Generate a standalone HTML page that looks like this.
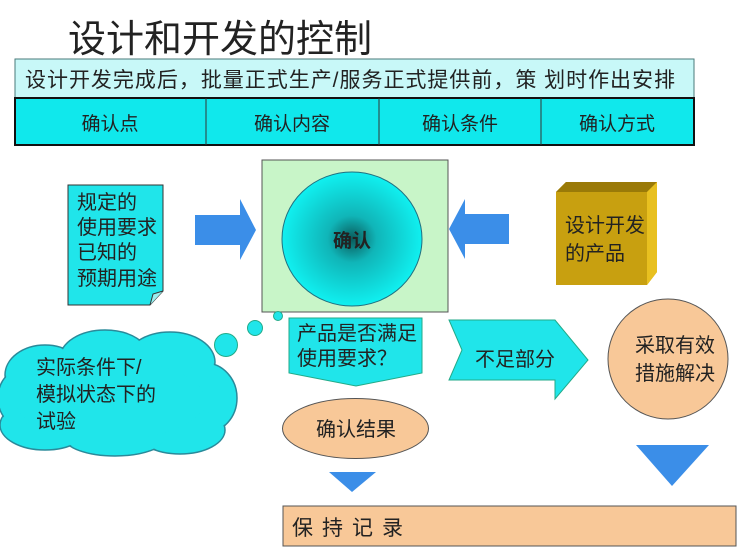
<!DOCTYPE html>
<html><head><meta charset="utf-8"><style>
body{margin:0;background:#fff;}
svg{display:block}
text{font-family:"Liberation Sans","Noto Sans CJK SC",sans-serif;fill:#222;}
</style></head><body>
<svg width="749" height="556" viewBox="0 0 749 556" xmlns="http://www.w3.org/2000/svg">
<defs>
<radialGradient id="g1" cx="0.5" cy="0.5" r="0.5">
<stop offset="0" stop-color="#0a5a5a"/><stop offset="0.35" stop-color="#10b5b8"/><stop offset="1" stop-color="#10f0f0"/>
</radialGradient>
</defs>
<text x="68" y="52" font-size="38" fill="#111">设计和开发的控制</text>
<rect x="15" y="59" width="679" height="39" fill="#c8f8f8" stroke="#4a7a7a" stroke-width="1"/>
<text x="25" y="87" font-size="21" textLength="650">设计开发完成后，批量正式生产/服务正式提供前，策 划时作出安排</text>
<rect x="15" y="98" width="679" height="47" fill="#10e8ec" stroke="#111" stroke-width="2"/>
<line x1="206" y1="98" x2="206" y2="145" stroke="#333"/>
<line x1="379" y1="98" x2="379" y2="145" stroke="#333"/>
<line x1="541" y1="98" x2="541" y2="145" stroke="#333"/>
<g font-size="19" text-anchor="middle"><text x="110" y="130">确认点</text><text x="292" y="130">确认内容</text><text x="460" y="130">确认条件</text><text x="617" y="130">确认方式</text></g>

<rect x="262" y="160" width="186" height="152" fill="#c8f5c8" stroke="#555"/>
<ellipse cx="352" cy="239" rx="70" ry="67" fill="url(#g1)" stroke="#207080"/>
<text x="352" y="247" font-size="19" font-weight="bold" text-anchor="middle" fill="#111">确认</text>

<path d="M68 185 H163 V291 L150 305 H68 Z" fill="#20e5ea" stroke="#333"/>
<path d="M150 305 L153 294 L163 291" fill="#9ee" stroke="#333"/>
<g font-size="20"><text x="77" y="209">规定的</text><text x="77" y="234">使用要求</text><text x="77" y="259">已知的</text><text x="77" y="285">预期用途</text></g>

<path d="M195 215 H240 V199 L256 230 L240 260 V245 H195 Z" fill="#3b8ee8"/>
<path d="M509 214 H465 V199 L449 229 L465 259 V244 H509 Z" fill="#3b8ee8"/>

<path d="M556 192 L566 182 H657 L657 272 L647 285 H556 Z" fill="#c8a010"/>
<path d="M556 192 L566 182 H657 L647 192 Z" fill="#9a7a08"/>
<path d="M647 192 L657 182 V272 L647 285 Z" fill="#e8c020"/>
<g font-size="20"><text x="565" y="232">设计开发</text><text x="565" y="260">的产品</text></g>

<circle cx="278" cy="316" r="4.5" fill="#20e5ea" stroke="#2a8"/>
<circle cx="255" cy="328" r="7.5" fill="#20e5ea" stroke="#2a8"/>
<circle cx="226" cy="345" r="11.5" fill="#20e5ea" stroke="#2a8"/>
<g fill="#20e5ea" stroke="#2a8a9a" stroke-width="1.5">
<ellipse cx="45" cy="375" rx="40" ry="30"/><ellipse cx="105" cy="358" rx="45" ry="28"/><ellipse cx="170" cy="362" rx="45" ry="30"/>
<ellipse cx="205" cy="398" rx="32" ry="35"/><ellipse cx="180" cy="430" rx="45" ry="24"/><ellipse cx="115" cy="438" rx="50" ry="18"/>
<ellipse cx="45" cy="425" rx="45" ry="25"/><ellipse cx="20" cy="398" rx="22" ry="28"/>
</g>
<g fill="#20e5ea">
<ellipse cx="45" cy="375" rx="39" ry="29"/><ellipse cx="105" cy="358" rx="44" ry="27"/><ellipse cx="170" cy="362" rx="44" ry="29"/>
<ellipse cx="205" cy="398" rx="31" ry="34"/><ellipse cx="180" cy="430" rx="44" ry="23"/><ellipse cx="115" cy="438" rx="49" ry="17"/>
<ellipse cx="45" cy="425" rx="44" ry="24"/><ellipse cx="20" cy="398" rx="21" ry="27"/>
<ellipse cx="110" cy="400" rx="95" ry="40"/>
</g>
<g font-size="20"><text x="36" y="374">实际条件下/</text><text x="36" y="401">模拟状态下的</text><text x="36" y="428">试验</text></g>

<path d="M289 318 H422 V373 L356 386 L289 373 Z" fill="#20e5ea" stroke="#2a8"/>
<g font-size="20"><text x="297" y="340">产品是否满足</text><text x="297" y="365">使用要求？</text></g>

<path d="M449 320 H555 V320 L588 360 L555 399 V380 H449 L462 350 Z" fill="#20e5ea" stroke="#2a8"/>
<text x="475" y="366" font-size="20">不足部分</text>

<ellipse cx="668" cy="359" rx="60" ry="60" fill="#f8c898" stroke="#555"/>
<g font-size="20"><text x="635" y="352">采取有效</text><text x="635" y="380">措施解决</text></g>

<ellipse cx="355.5" cy="428.5" rx="73" ry="30" fill="#f8c898" stroke="#555"/>
<text x="356" y="436" font-size="20" text-anchor="middle">确认结果</text>

<path d="M329 472 H376 L352 492 Z" fill="#3b8ee8"/>
<path d="M636 445 H709 L672 486 Z" fill="#3b8ee8"/>

<rect x="283" y="506" width="453" height="40" fill="#f8c898" stroke="#555"/>
<text x="292" y="535" font-size="21" letter-spacing="9">保持记录</text>
</svg>
</body></html>
